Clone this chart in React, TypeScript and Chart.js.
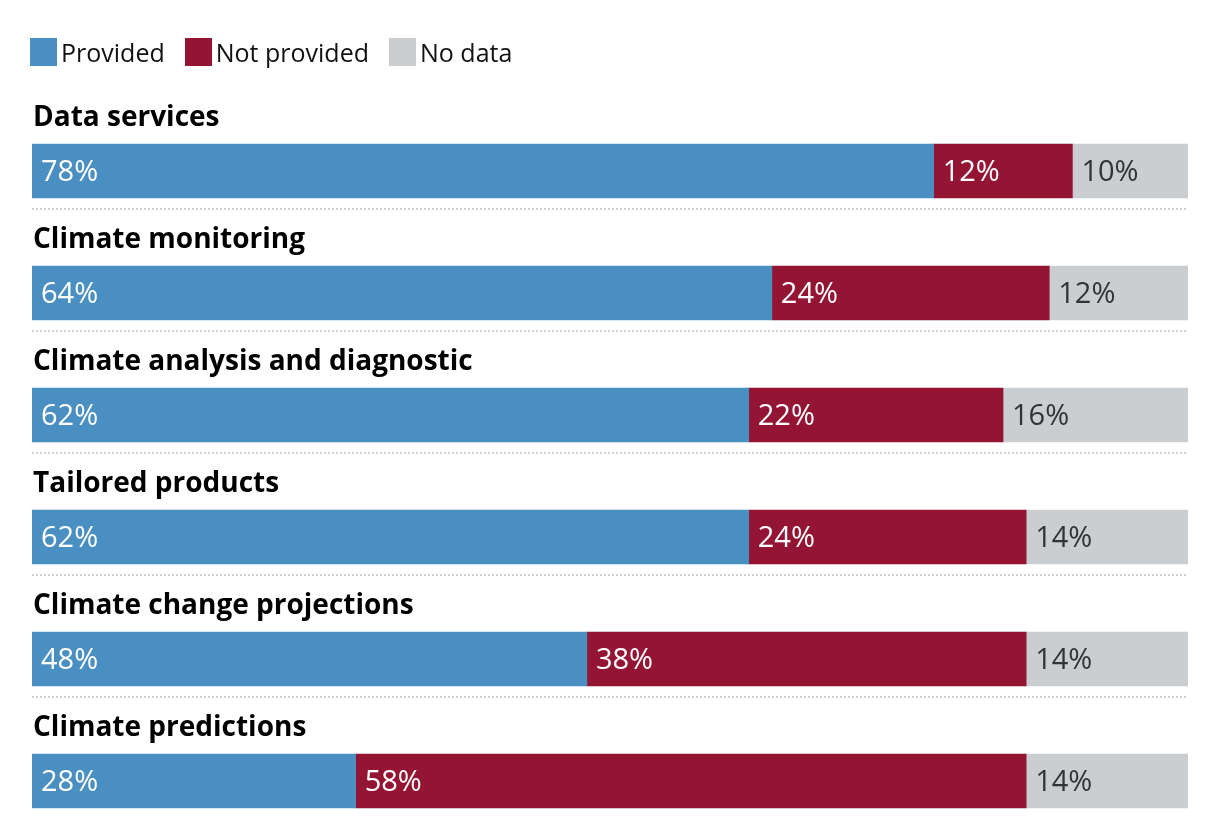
import React, { useEffect, useRef } from "react";
import { Chart, registerables } from "chart.js";

Chart.register(...registerables);

const categories = [
  "Data services",
  "Climate monitoring",
  "Climate analysis and diagnostic",
  "Tailored products",
  "Climate change projections",
  "Climate predictions",
];
const provided = [78, 64, 62, 62, 48, 28];
const notProvided = [12, 24, 22, 24, 38, 58];
const noData = [10, 12, 16, 14, 14, 14];
const seriesNames = ["Provided", "Not provided", "No data"];
const seriesColors = ["#4a8fc2", "#941434", "#cbced1"];
const labelColors = ["#ffffff", "#ffffff", "#333333"];

const FONT = '"Open Sans", "Noto Sans", sans-serif';

const separatorPlugin = {
  id: "separators",
  beforeDatasetsDraw(chart: any) {
    const { ctx, chartArea, scales } = chart;
    const y = scales.y;
    ctx.save();
    ctx.strokeStyle = "#d2d3d5";
    ctx.lineWidth = 2;
    ctx.setLineDash([2, 2]);
    for (let i = 0; i < categories.length - 1; i++) {
      const py = Math.round(y.getPixelForValue(i) + 27 + 11);
      ctx.beginPath();
      ctx.moveTo(chartArea.left, py);
      ctx.lineTo(chartArea.right, py);
      ctx.stroke();
    }
    ctx.restore();
  },
};

const valueLabelPlugin = {
  id: "valueLabels",
  afterDatasetsDraw(chart: any) {
    const { ctx } = chart;
    ctx.save();
    ctx.font = `29px ${FONT}`;
    ctx.textAlign = "left";
    ctx.textBaseline = "alphabetic";
    chart.data.datasets.forEach((ds: any, di: number) => {
      const meta = chart.getDatasetMeta(di);
      meta.data.forEach((bar: any, i: number) => {
        const { x, base, y } = bar.getProps(["x", "base", "y"], true);
        const left = Math.min(x, base);
        ctx.fillStyle = labelColors[di];
        ctx.fillText(`${ds.data[i]}%`, left + 9, y + 10);
      });
    });
    ctx.restore();
  },
};

export default function App() {
  const canvasRef = useRef<HTMLCanvasElement | null>(null);

  useEffect(() => {
    document.body.style.margin = "0";
    document.body.style.overflow = "hidden";
    const canvas = canvasRef.current;
    if (!canvas) return;
    const seriesValues = [provided, notProvided, noData];
    const chart = new Chart(canvas, {
      type: "bar",
      data: {
        labels: categories,
        datasets: seriesNames.map((name, di) => ({
          label: name,
          data: seriesValues[di],
          backgroundColor: seriesColors[di],
          borderWidth: 0,
          barThickness: 54,
        })),
      },
      options: {
        indexAxis: "y",
        animation: false,
        responsive: true,
        maintainAspectRatio: false,
        layout: { padding: { top: 110, left: 32, right: 32, bottom: 0 } },
        plugins: {
          legend: { display: false },
          tooltip: { enabled: false },
        },
        scales: {
          x: {
            type: "linear",
            stacked: true,
            min: 0,
            max: 100,
            display: false,
          },
          y: {
            type: "category",
            stacked: true,
            offset: true,
            grid: { display: false, drawTicks: false },
            border: { display: false },
            ticks: {
              autoSkip: false,
              mirror: true,
              padding: 1,
              labelOffset: -53,
              color: "#000000",
              font: { family: FONT, size: 28, weight: "bold" },
            },
            afterFit: (scale: any) => {
              scale.width = 0;
              scale.paddingTop = 0;
              scale.paddingBottom = 0;
            },
          },
        },
      },
      plugins: [separatorPlugin, valueLabelPlugin],
    });
    return () => chart.destroy();
  }, []);

  return (
    <div style={{ position: "relative", width: "1220px", height: "838px", overflow: "hidden" }}>
      <div
        style={{
          position: "absolute",
          top: "38px",
          left: "30px",
          display: "flex",
          alignItems: "center",
          fontFamily: FONT,
          fontSize: "25px",
          lineHeight: "28px",
          color: "#111111",
          zIndex: 1,
        }}
      >
        {seriesNames.map((name, i) => (
          <div key={name} style={{ display: "flex", alignItems: "center", marginRight: "20px" }}>
            <span
              style={{
                display: "inline-block",
                width: "27px",
                height: "28px",
                background: seriesColors[i],
                marginRight: "4px",
              }}
            />
            <span>{name}</span>
          </div>
        ))}
      </div>
      <div style={{ position: "absolute", top: 0, left: 0, width: "1220px", height: "842px" }}>
        <canvas ref={canvasRef} />
      </div>
    </div>
  );
}
